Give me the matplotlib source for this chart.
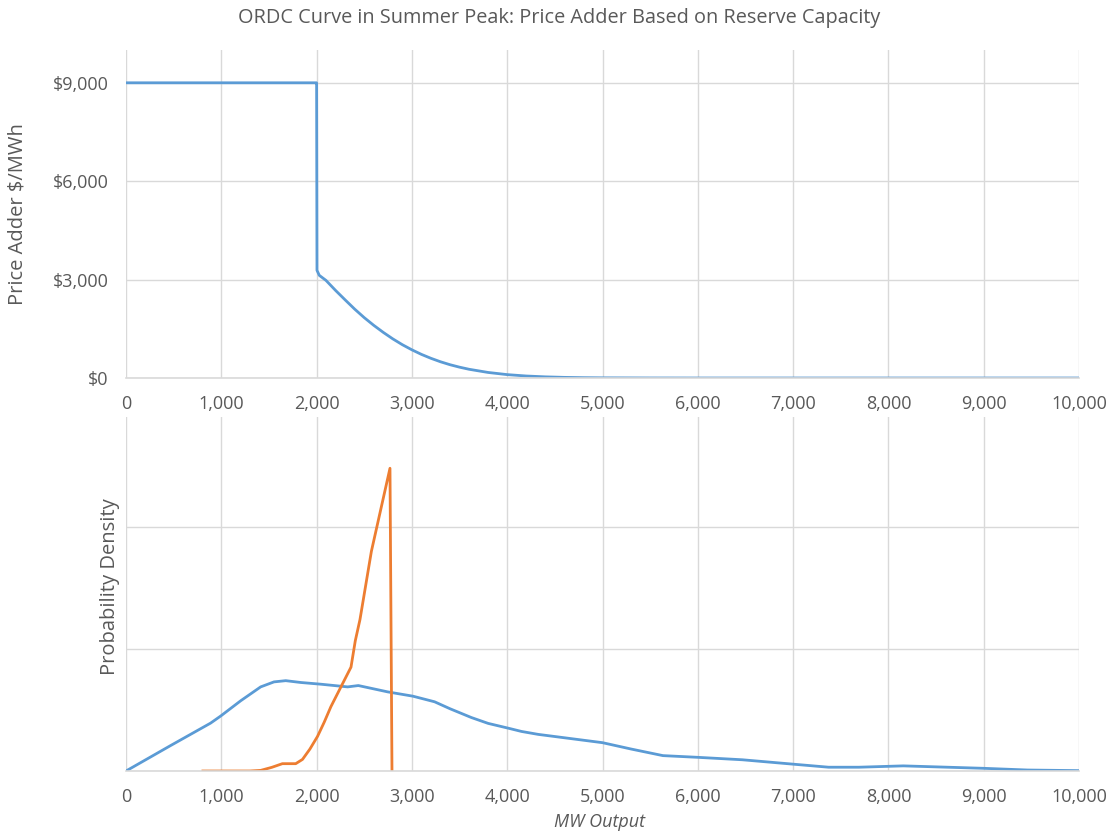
import matplotlib
matplotlib.use("Agg")
import matplotlib.pyplot as plt
from matplotlib.ticker import FuncFormatter, MultipleLocator

# ORDC price adder curve (top), $/MWh vs MW of reserve
ordc_mw = [0, 1990, 2000, 2004, 2028, 2060, 2098, 2200, 2300, 2400, 2500,
           2600, 2700, 2800, 2900, 3000, 3100, 3200, 3300, 3400, 3500, 3600,
           3800, 4000, 4200, 4400, 4600, 4800, 5000, 5500, 6000, 10000]
ordc_price = [9000, 9000, 9000, 3283, 3130, 3060, 2977, 2667, 2380, 2099, 1840,
              1605, 1390, 1192, 1015, 859, 720, 600, 495, 405, 330, 266,
              169, 103, 61, 35, 19, 10, 5, 1, 0, 0]

# probability densities (bottom), arbitrary units: 1 unit = one gridline
blue_mw = [0, 467, 887, 993, 1203, 1413, 1553, 1676, 1835, 2045, 2326, 2438,
           2747, 3010, 3238, 3400, 3624, 3800, 4010, 4150, 4325, 5000,
           5300, 5634, 6000, 6467, 7000, 7373, 7690, 8156, 9000, 9463, 10000]
blue_dens = [0, 0.208, 0.392, 0.45, 0.575, 0.689, 0.73, 0.74, 0.725, 0.711,
             0.689, 0.70, 0.648, 0.613, 0.567, 0.51, 0.438, 0.39, 0.351,
             0.324, 0.300, 0.232, 0.18, 0.126, 0.112, 0.092, 0.056, 0.031,
             0.031, 0.042, 0.022, 0.008, 0.003]

orange_mw = [807, 1300, 1413, 1530, 1641, 1781, 1852, 1930, 2010, 2080, 2150,
             2273, 2361, 2406, 2455, 2575, 2770, 2791]
orange_dens = [0, 0, 0.005, 0.03, 0.06, 0.06, 0.095, 0.18, 0.284, 0.40, 0.527,
               0.716, 0.851, 1.067, 1.24, 1.80, 2.48, 0]

BLUE = "#5B9BD5"
ORANGE = "#ED7D31"
GRID = "#D9D9D9"
TXT = "#595959"
W, H = 1111, 831

plt.rcParams["font.family"] = ["Open Sans", "DejaVu Sans"]

fig = plt.figure(figsize=(W / 100, H / 100), dpi=100, facecolor="white")
ax1 = fig.add_axes([126 / W, 1 - 378 / H, 953 / W, 328 / H])
ax2 = fig.add_axes([126 / W, 1 - 771 / H, 953 / W, 354 / H])


def style(ax):
    for s in ("top", "right", "left"):
        ax.spines[s].set_visible(False)
    ax.spines["bottom"].set_color(GRID)
    ax.spines["bottom"].set_linewidth(1.2)
    ax.grid(True, color=GRID, lw=1)
    ax.set_axisbelow(True)
    ax.tick_params(length=0, labelsize=13, colors=TXT, pad=12.5)
    ax.tick_params(axis="y", pad=12.5)
    ax.set_xlim(0, 10000)
    ax.xaxis.set_major_locator(MultipleLocator(1000))
    ax.xaxis.set_major_formatter(FuncFormatter(lambda v, p: f"{v:,.0f}"))


style(ax1)
ax1.plot(ordc_mw, ordc_price, color=BLUE, lw=2, solid_joinstyle="round")
ax1.set_ylim(0, 10000)
ax1.set_yticks([0, 3000, 6000, 9000])
ax1.yaxis.set_major_formatter(FuncFormatter(lambda v, p: f"${v:,.0f}"))

style(ax2)
ax2.plot(blue_mw, blue_dens, color=BLUE, lw=2, solid_joinstyle="round")
ax2.plot(orange_mw, orange_dens, color=ORANGE, lw=2, solid_joinstyle="round")
ax2.set_ylim(0, 2.9)
ax2.set_yticks([0, 1, 2])
ax2.set_yticklabels([])

fig.text(600 / W, 1 - 822 / H, "MW Output", ha="center", va="center",
         fontsize=13, color=TXT, style="italic")
fig.text(18 / W, 1 - 214 / H, "Price Adder $/MWh", rotation=90, ha="center",
         va="center", fontsize=14.5, color=TXT)
fig.text(110 / W, 1 - 587 / H, "Probability Density", rotation=90, ha="center",
         va="center", fontsize=14.5, color=TXT)
fig.text(559 / W, 1 - 18 / H,
         "ORDC Curve in Summer Peak: Price Adder Based on Reserve Capacity",
         ha="center", va="center", fontsize=14.3, color=TXT)

fig.savefig("out.png", dpi=100, facecolor="white")
